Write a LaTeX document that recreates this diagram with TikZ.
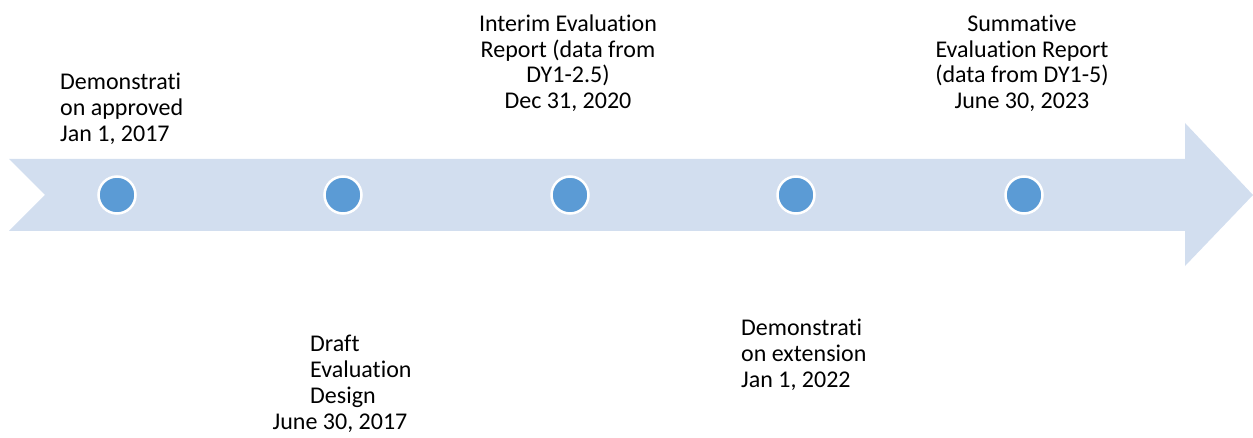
\documentclass[tikz,border=0pt]{standalone}
\usepackage{fontspec}
\setmainfont{Carlito}[Ligatures=NoCommon]
\definecolor{bandblue}{RGB}{210,222,239}
\definecolor{dotblue}{RGB}{91,155,213}
\begin{document}
\begin{tikzpicture}[x=1pt,y=1pt,
  dot/.style={circle,fill=dotblue,draw=white,line width=2.5pt,minimum size=37pt,inner sep=0pt},
  lbl/.style={inner sep=0pt,font=\fontsize{24}{26}\selectfont,text=black}]
\useasboundingbox (0,0) rectangle (1253,437);
% timeline arrow
\fill[bandblue] (9,278) -- (1185,278) -- (1185,314) -- (1253,242) -- (1185,171) -- (1185,206) -- (9,206) -- (45,242) -- cycle;
% milestones
\node[dot] (m1) at (117,242) {};
\node[dot] (m2) at (343,242) {};
\node[dot] (m3) at (570,242) {};
\node[dot] (m4) at (796,242) {};
\node[dot] (m5) at (1024,242) {};
% label 1
\node[lbl,anchor=base west] (a1) at (60,347) {Demonstrati};
\node[lbl,anchor=base west] (a2) at (60,321) {on approved};
\node[lbl,anchor=base west] (a3) at (60,295) {Jan 1, 2017};
% label 2
\node[lbl,anchor=base west] (b1) at (310,86) {Draft};
\node[lbl,anchor=base west] (b2) at (310,60) {Evaluation};
\node[lbl,anchor=base west] (b3) at (310,34) {Design};
\node[lbl,anchor=base] (b4) at (340,8) {June 30, 2017};
% label 3
\node[lbl,anchor=base] (c1) at (568,405) {Interim Evaluation};
\node[lbl,anchor=base] (c2) at (568,379.5) {Report (data from};
\node[lbl,anchor=base] (c3) at (568,354) {DY1-2.5)};
\node[lbl,anchor=base] (c4) at (568,328.5) {Dec 31, 2020};
% label 4
\node[lbl,anchor=base west] (d1) at (741,102) {Demonstrati};
\node[lbl,anchor=base west] (d2) at (741,76) {on extension};
\node[lbl,anchor=base west] (d3) at (741,50) {Jan 1, 2022};
% label 5
\node[lbl,anchor=base] (e1) at (1022,405) {Summative};
\node[lbl,anchor=base] (e2) at (1022,379.5) {Evaluation Report};
\node[lbl,anchor=base] (e3) at (1022,354) {(data from DY1-5)};
\node[lbl,anchor=base] (e4) at (1022,328.5) {June 30, 2023};
\end{tikzpicture}
\end{document}
